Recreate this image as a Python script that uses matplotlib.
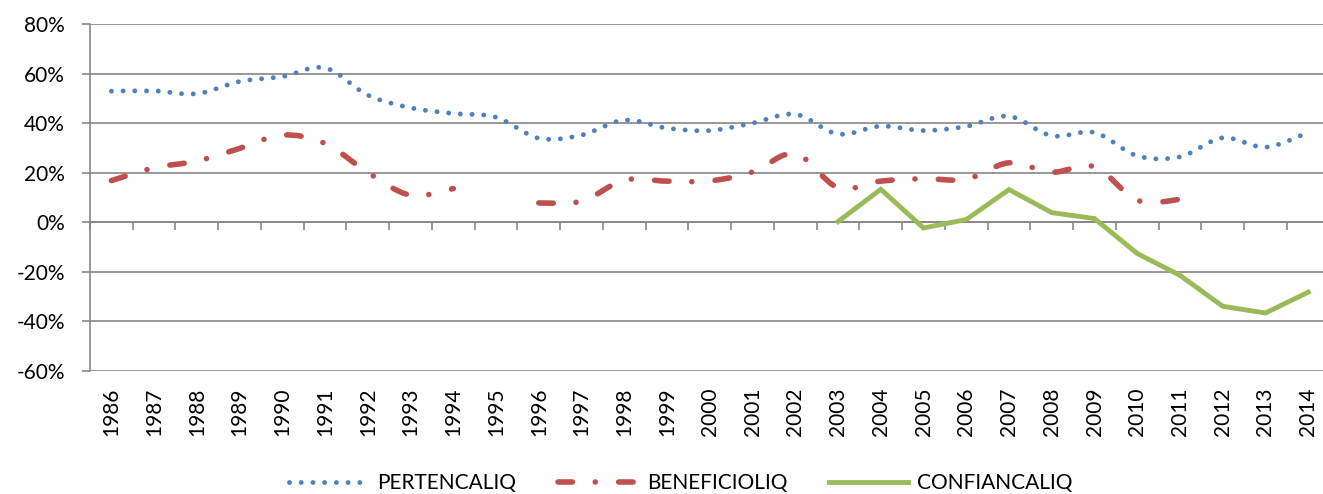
import matplotlib
matplotlib.use('Agg')
import matplotlib.pyplot as plt
import numpy as np
from matplotlib.path import Path
from matplotlib.patches import PathPatch
from matplotlib.lines import Line2D
from matplotlib.ticker import FuncFormatter

nan = np.nan

years = list(range(1986, 2015))

# percent values
pertencaliq = [52.9, 53.0, 51.9, 56.8, 58.8, 62.3, 51.3, 46.2, 43.9, 42.4,
               33.9, 35.2, 41.2, 38.0, 37.0, 40.0, 43.6, 35.6, 38.8, 37.0,
               38.7, 42.8, 34.9, 36.2, 26.8, 26.4, 34.1, 30.3, 36.2]
beneficioliq = [16.8, 22.0, 24.7, 29.8, 35.2, 31.8, 20.1, 10.9, 13.6, nan,
                7.8, 8.5, 17.0, 16.6, 16.7, 20.3, 27.7, 14.0, 16.6, 17.6,
                17.4, 24.0, 20.2, 22.4, 8.9, 9.2, nan, nan, nan]
confiancaliq = [nan] * 17 + [0.3, 13.3, -2.3, 1.1, 13.2, 3.9, 1.5, -12.6,
                             -21.4, -33.9, -36.6, -28.2]

BLUE = '#4F81BD'
RED = '#C0504D'
GREEN = '#9BBB59'
GRID = '#878787'

plt.rcParams['font.family'] = ['Lato', 'DejaVu Sans']
plt.rcParams['font.size'] = 15


def smooth_path(x, y):
    # Excel-like smoothed line: cubic bezier through the points, split at gaps
    x = np.asarray(x, float)
    y = np.asarray(y, float)
    verts, codes = [], []
    ok = ~np.isnan(y)
    i = 0
    n = len(y)
    while i < n:
        if not ok[i]:
            i += 1
            continue
        j = i
        while j < n and ok[j]:
            j += 1
        pts = np.column_stack([x[i:j], y[i:j]])
        m = len(pts)
        verts.append(pts[0])
        codes.append(Path.MOVETO)
        for k in range(m - 1):
            p0 = pts[k - 1] if k > 0 else pts[k]
            p1 = pts[k]
            p2 = pts[k + 1]
            p3 = pts[k + 2] if k + 2 < m else pts[k + 1]
            verts += [p1 + (p2 - p0) / 6, p2 - (p3 - p1) / 6, p2]
            codes += [Path.CURVE4] * 3
        i = j
    return Path(verts, codes)


fig = plt.figure(figsize=(13.23, 4.94), dpi=100)
ax = fig.add_axes([90 / 1323, 1 - 371 / 494, 1 - 90 / 1323 + 0.005, (371 - 24) / 494])

xs = np.arange(len(years))

blue_ls = (0, (0.01, 2.4))
red_ls = (0, (2.6, 4.1, 0.01, 4.2))

ax.add_patch(PathPatch(smooth_path(xs, pertencaliq), facecolor='none', edgecolor=BLUE,
                       lw=3.5, linestyle=blue_ls, capstyle='round', zorder=3))
ax.add_patch(PathPatch(smooth_path(xs, beneficioliq), facecolor='none', edgecolor=RED,
                       lw=4.0, linestyle=red_ls, capstyle='round', zorder=3))
ax.plot(xs, confiancaliq, color=GREEN, lw=3.5, solid_joinstyle='miter', zorder=3)

ax.set_xlim(-0.5, len(years) - 0.5)
ax.set_ylim(-60, 80)
ax.set_yticks(np.arange(-60, 81, 20))
ax.yaxis.set_major_formatter(FuncFormatter(lambda v, p: f'{v:.0f}%'))
ax.grid(axis='y', color=GRID, lw=1.2)
ax.set_axisbelow(True)

for s in ['top', 'right', 'bottom']:
    ax.spines[s].set_visible(False)
ax.spines['left'].set_color(GRID)
ax.spines['left'].set_linewidth(1.2)
ax.tick_params(axis='y', length=6, width=1.2, color=GRID, pad=12, labelsize=15)

ax.set_xticks(xs)
ax.set_xticklabels([str(y) for y in years], rotation=90)
ax.tick_params(axis='x', length=0, pad=12, labelsize=15)

# category axis crossing at 0%
sec = ax.secondary_xaxis(60 / 140)
sec.set_xticks(np.arange(-0.5, len(years), 1.0))
sec.set_xticklabels([])
sec.tick_params(axis='x', direction='out', length=6, width=1.2, color=GRID)
sec.spines['bottom'].set_color(GRID)
sec.spines['bottom'].set_linewidth(1.2)
sec.spines['top'].set_visible(False)

handles = [
    Line2D([], [], color=BLUE, lw=3.5, linestyle=blue_ls, dash_capstyle='round'),
    Line2D([], [], color=RED, lw=4.0, linestyle=red_ls, dash_capstyle='round'),
    Line2D([], [], color=GREEN, lw=3.5),
]
fig.legend(handles, ['PERTENCALIQ', 'BENEFICIOLIQ', 'CONFIANCALIQ'],
           loc='center', bbox_to_anchor=(681 / 1323, 1 - 483 / 494), ncol=3,
           frameon=False, fontsize=15, handlelength=3.8, handletextpad=0.45,
           columnspacing=2.0)

fig.savefig('out.png', dpi=100)
